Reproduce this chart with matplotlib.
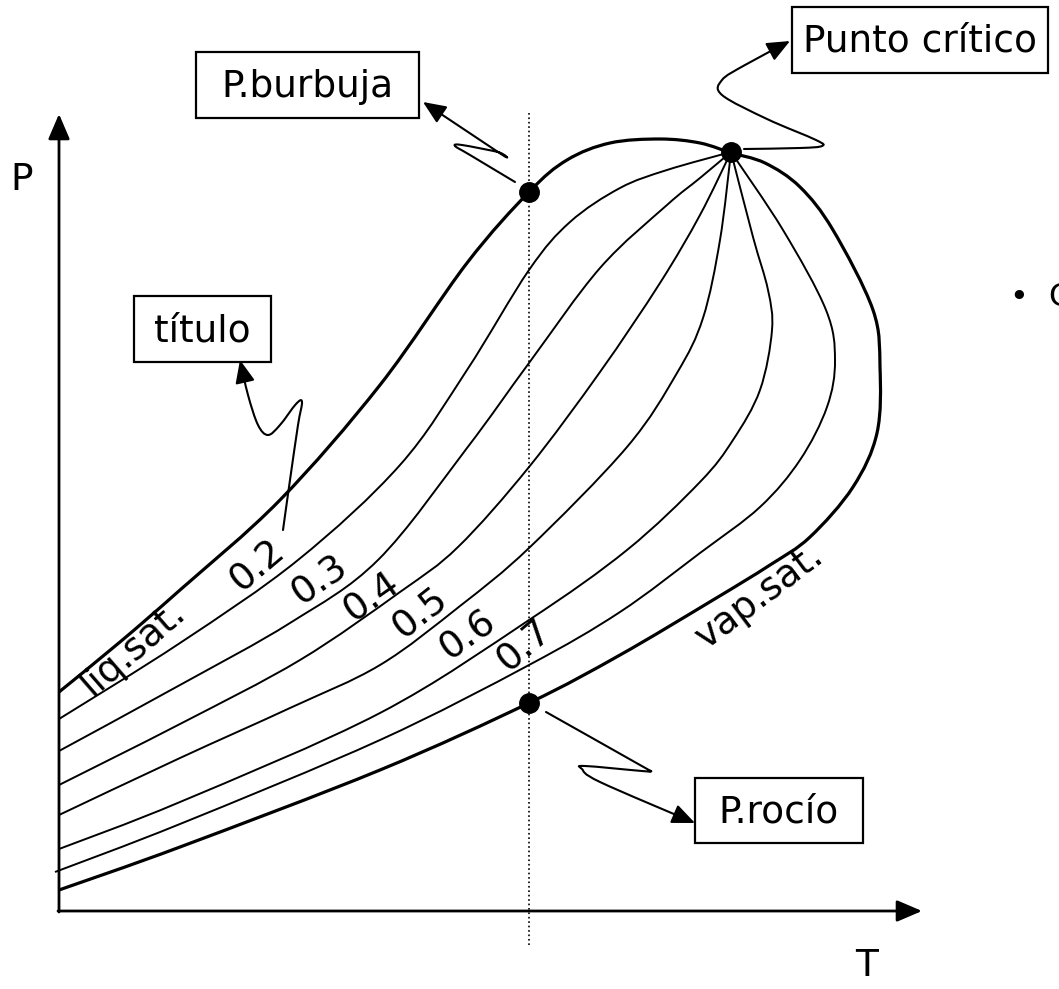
import numpy as np
import matplotlib
matplotlib.use('Agg')
import matplotlib.pyplot as plt
from matplotlib.path import Path
from matplotlib.patches import PathPatch, FancyArrowPatch, Rectangle

liq_sat = [(59, 692), (120, 642), (180, 590), (280, 500), (380, 385), (467, 263),
           (529, 192), (567, 160), (610, 143), (660, 139), (700, 143), (731, 153)]
x02 = [(59, 719), (180, 643), (298, 560), (400, 465), (467, 370), (529, 270),
       (570, 222), (620, 188), (667, 170), (731, 152)]
x03 = [(59, 751), (180, 685), (290, 623), (378, 560), (467, 448), (529, 363),
       (600, 268), (667, 205), (700, 178), (731, 152)]
x04 = [(59, 785), (180, 724), (300, 660), (400, 592), (458, 547), (529, 467),
       (600, 372), (660, 283), (700, 215), (731, 152)]
x05 = [(59, 815), (180, 758), (290, 708), (380, 665), (460, 606), (529, 548),
       (627, 447), (677, 373), (703, 318), (720, 240), (731, 152)]
x06 = [(59, 849), (180, 802), (380, 713), (529, 620), (627, 550), (700, 482),
       (733, 440), (760, 390), (772, 330), (768, 290), (753, 237), (731, 152)]
x07 = [(55, 872), (180, 824), (380, 740), (529, 665), (620, 612), (700, 553),
       (760, 507), (800, 460), (827, 407), (835, 360), (826, 310), (783, 230),
       (731, 152)]
vap_sat = [(59, 890), (180, 847), (380, 770), (529, 703), (620, 655), (713, 600),
           (770, 565), (810, 537), (853, 487), (877, 433), (880, 367), (873, 310),
           (833, 230), (800, 187), (765, 163), (731, 153)]

# puntos marcados
punto_critico = (731, 152)
p_burbuja = (529, 192)
p_rocio = (529, 703)

# etiquetas de titulo sobre las curvas
titulos = ['liq.sat.', '0.2', '0.3', '0.4', '0.5', '0.6', '0.7', 'vap.sat.']
titulo_xy = [(133, 648), (258, 566), (320, 580), (372, 597), (420, 613),
             (468, 635), (525, 646), (760, 597)]
titulo_rot = [41, 40, 35, 35, 38, 35, 40, 37]

# flechas onduladas
sq_burbuja = [(515, 182), (470, 155), (455, 146), (462, 145), (498, 152), (501, 154),
              (423, 102)]
sq_critico = [(744, 149), (800, 148), (822, 146), (816, 140), (767, 119), (722, 95),
              (722, 80), (745, 65), (790, 41)]
sq_rocio = [(546, 712), (640, 765), (650, 771), (642, 771), (585, 766), (582, 769),
            (600, 782), (695, 823)]
sq_titulo = [(283, 530), (290, 480), (298, 425), (302, 402), (296, 404), (280, 425),
             (268, 435), (258, 425), (248, 395), (240, 360)]


def suave(pts):
    # Catmull-Rom -> segmentos Bezier cubicos
    p = np.asarray(pts, float)
    verts = [p[0]]
    codes = [Path.MOVETO]
    n = len(p)
    for i in range(n - 1):
        p0 = p[i - 1] if i > 0 else p[i]
        p1, p2 = p[i], p[i + 1]
        p3 = p[i + 2] if i + 2 < n else p[i + 1]
        verts += [p1 + (p2 - p0) / 6, p2 - (p3 - p1) / 6, p2]
        codes += [Path.CURVE4] * 3
    return Path(verts, codes)


fig = plt.figure(figsize=(10.59, 9.89), dpi=100)
ax = fig.add_axes([0, 0, 1, 1])
ax.set_xlim(0, 1059)
ax.set_ylim(989, 0)
ax.axis('off')

# ejes
ax.annotate('', xy=(59, 114), xytext=(59, 912),
            arrowprops=dict(arrowstyle='-|>,head_length=0.7,head_width=0.3', lw=2,
                            color='black', mutation_scale=22, shrinkA=0, shrinkB=0))
ax.annotate('', xy=(922, 911), xytext=(58, 911),
            arrowprops=dict(arrowstyle='-|>,head_length=0.7,head_width=0.3', lw=2,
                            color='black', mutation_scale=22, shrinkA=0, shrinkB=0))
ax.text(22, 180, 'P', fontsize=27, ha='center', va='center')
ax.text(867, 966, 'T', fontsize=27, ha='center', va='center')

# linea punteada vertical
ax.plot([529, 529], [113, 945], ls=':', lw=1.2, color='black')

for c in [x02, x03, x04, x05, x06, x07]:
    ax.add_patch(PathPatch(suave(c), fill=False, lw=1.4, color='black'))
for c in [liq_sat, vap_sat]:
    ax.add_patch(PathPatch(suave(c), fill=False, lw=2.3, color='black'))

for p in [punto_critico, p_burbuja, p_rocio]:
    ax.plot(p[0], p[1], 'o', ms=14, color='black')

for t, (x, y), r in zip(titulos, titulo_xy, titulo_rot):
    ax.text(x, y, t, fontsize=27, rotation=r, ha='center', va='center',
            rotation_mode='anchor')

# cajas
cajas = [('P.burbuja', 196, 52, 223, 66), ('Punto crítico', 792, 7, 256, 66),
         ('título', 134, 296, 137, 66), ('P.rocío', 695, 778, 168, 65)]
for t, x, y, w, h in cajas:
    ax.add_patch(Rectangle((x, y), w, h, fill=False, lw=1.6, color='black'))
    ax.text(x + w / 2, y + h / 2 + 2, t, fontsize=27, ha='center', va='center')

for sq in [sq_burbuja, sq_critico, sq_rocio, sq_titulo]:
    ax.add_patch(FancyArrowPatch(path=suave(sq),
                                 arrowstyle='-|>,head_length=0.7,head_width=0.3',
                                 mutation_scale=20, lw=1.5, color='black',
                                 shrinkA=0, shrinkB=0))

ax.text(1010, 297, '•  C', fontsize=23, ha='left', va='center')

plt.savefig('out.png', dpi=100)
